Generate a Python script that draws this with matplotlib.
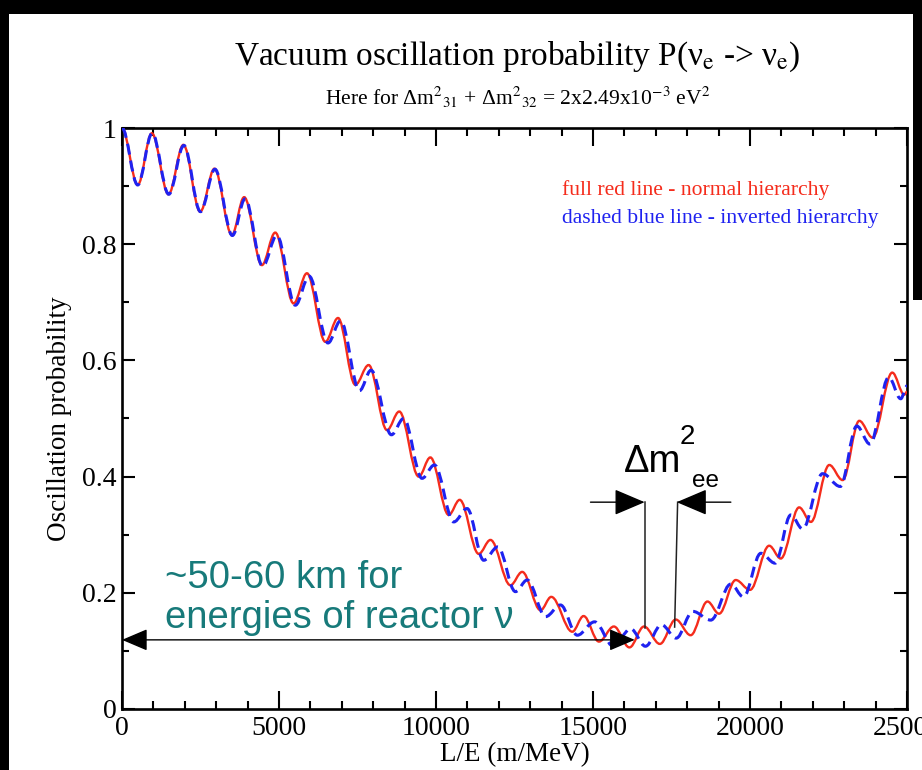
import matplotlib
matplotlib.use("Agg")
import matplotlib.pyplot as plt
from matplotlib.path import Path
from matplotlib.patches import PathPatch, Rectangle
from matplotlib.ticker import MultipleLocator

plt.rcParams['font.family'] = ['Liberation Serif', 'DejaVu Serif']
plt.rcParams['mathtext.fontset'] = 'stix'

# ---- data: local maxima / minima of each curve ----
normal_L = [0, 500, 950, 1480, 1955, 2490, 2945, 3500, 3890, 4455, 4880, 5465,
            5890, 6475, 6880, 7430, 7855, 8440, 8830, 9450, 9820, 10405, 10755,
            11360, 11735, 12370, 12745, 13330, 13670, 14340, 14700, 15190, 15665,
            16160, 16625, 17130, 17635, 18110, 18645, 19015, 19545, 20000, 20610,
            20980, 21565, 21940, 22525, 22950, 23480, 23905, 24530, 24915, 25000]
normal_P = [1.000, 0.902, 0.991, 0.886, 0.971, 0.856, 0.930, 0.816, 0.881, 0.764,
            0.820, 0.698, 0.750, 0.632, 0.673, 0.558, 0.592, 0.480, 0.512, 0.400,
            0.433, 0.334, 0.360, 0.267, 0.291, 0.213, 0.236, 0.170, 0.193, 0.133,
            0.160, 0.116, 0.142, 0.106, 0.142, 0.112, 0.154, 0.127, 0.185, 0.164,
            0.222, 0.205, 0.281, 0.259, 0.347, 0.322, 0.420, 0.394, 0.496, 0.467,
            0.579, 0.541, 0.546]

inverted_L = [0, 500, 960, 1490, 1970, 2500, 2960, 3515, 3920, 4480, 4930, 5520,
              5960, 6560, 6960, 7565, 7930, 8580, 8970, 9555, 9950, 10565, 10990,
              11520, 11970, 12530, 12905, 13490, 13965, 14500, 15050, 15650, 16200,
              16670, 17180, 17650, 18180, 18750, 19390, 19790, 20345, 20800, 21300,
              21675, 22310, 22875, 23400, 23820, 24420, 24800, 25000]
inverted_P = [1.000, 0.902, 0.991, 0.886, 0.970, 0.856, 0.929, 0.815, 0.878, 0.762,
              0.815, 0.695, 0.745, 0.630, 0.668, 0.548, 0.583, 0.472, 0.500, 0.397,
              0.420, 0.322, 0.345, 0.256, 0.279, 0.202, 0.222, 0.159, 0.179, 0.127,
              0.150, 0.108, 0.138, 0.108, 0.145, 0.122, 0.168, 0.153, 0.215, 0.193,
              0.268, 0.251, 0.334, 0.310, 0.405, 0.383, 0.487, 0.456, 0.571, 0.534,
              0.556]

x_ticks = [0, 5000, 10000, 15000, 20000, 25000]
x_tick_labels = ["0", "5000", "10000", "15000", "20000", "25000"]
y_ticks = [0, 0.2, 0.4, 0.6, 0.8, 1.0]
y_tick_labels = ["0", "0.2", "0.4", "0.6", "0.8", "1"]

# annotation anchors (data units)
range_arrow_L = [0, 16330]
range_arrow_P = 0.119
dm_left_L = [14920, 16645]
dm_right_L = [19390, 17665]
dm_arrow_P = 0.356
dm_bar1_L = [16645, 16645]
dm_bar1_P = [0.356, 0.139]
dm_bar2_L = [17695, 17600]
dm_bar2_P = [0.356, 0.141]


def smooth_path(xs, ys, k=0.36):
    """Bezier path through extrema with horizontal tangents."""
    verts = [(xs[0], ys[0])]
    codes = [Path.MOVETO]
    for i in range(1, len(xs)):
        x0, y0 = xs[i - 1], ys[i - 1]
        x1, y1 = xs[i], ys[i]
        dx = x1 - x0
        verts += [(x0 + k * dx, y0), (x1 - k * dx, y1), (x1, y1)]
        codes += [Path.CURVE4] * 3
    return Path(verts, codes)


W, H = 922, 770
fig = plt.figure(figsize=(W / 100, H / 100), dpi=100)
fig.patch.set_facecolor('white')
ax = fig.add_axes([122 / W, 1 - 709 / H, (907 - 122) / W, (709 - 128) / H])

red = '#f52c1c'
blue = '#1f22f0'
teal = '#177a7a'

ax.add_patch(PathPatch(smooth_path(normal_L, normal_P), fill=False,
                       edgecolor=red, lw=1.7, transform=ax.transData, zorder=3))
ax.add_patch(PathPatch(smooth_path(inverted_L, inverted_P), fill=False,
                       edgecolor=blue, lw=2.2, linestyle=(0, (3.6, 2.0)),
                       transform=ax.transData, zorder=4))

ax.set_xlim(0, 25000)
ax.set_ylim(0, 1)
ax.set_xticks(x_ticks)
ax.set_xticklabels(x_tick_labels)
ax.set_yticks(y_ticks)
ax.set_yticklabels(y_tick_labels)
ax.xaxis.set_minor_locator(MultipleLocator(1000))
ax.yaxis.set_minor_locator(MultipleLocator(0.1))
ax.tick_params(axis='x', which='major', direction='in', length=13, width=1.5,
               top=True, bottom=True, labelsize=20, pad=5)
ax.tick_params(axis='x', which='minor', direction='in', length=5.5, width=1.5,
               top=True, bottom=True)
ax.tick_params(axis='y', which='major', direction='in', length=9.5, width=1.5,
               left=True, right=True, labelsize=20, pad=4)
ax.tick_params(axis='y', which='minor', direction='in', length=5, width=1.5,
               left=True, right=True)
for s in ax.spines.values():
    s.set_linewidth(1.9)

ax.set_xlabel('L/E (m/MeV)', fontsize=19.5)
ax.set_ylabel('Oscillation probability', fontsize=19.5)
ax.xaxis.set_label_coords(0.5, -0.057)
ax.yaxis.set_label_coords(-0.064, 0.5)

# titles
fig.text(0.561, 0.926, r'Vacuum oscillation probability P(ν$_{\rm e}$ -> ν$_{\rm e}$)',
         ha='center', va='center', fontsize=24)
fig.text(0.562, 0.873,
         r'Here for Δm$^2$$_{31}$ + Δm$^2$$_{32}$ = 2x2.49x10$^{-3}$ eV$^2$',
         ha='center', va='center', fontsize=15.5)

# legend-like texts
fig.text(562 / W, 1 - 190 / H, 'full red line - normal hierarchy', color=red,
         ha='left', va='center', fontsize=15.6)
fig.text(562 / W, 1 - 219 / H, 'dashed blue line - inverted hierarchy', color=blue,
         ha='left', va='center', fontsize=15.6)

# teal annotation
sans = ['Liberation Sans', 'DejaVu Sans']
fig.text(165 / W, 1 - 588 / H, '~50-60 km for', color=teal, ha='left',
         va='baseline', fontsize=27.5, family=sans)
fig.text(165 / W, 1 - 628 / H, 'energies of reactor ν', color=teal, ha='left',
         va='baseline', fontsize=27.5, family=sans)

# double arrow
ax.annotate('', xy=(range_arrow_L[1], range_arrow_P), xytext=(range_arrow_L[0], range_arrow_P),
            arrowprops=dict(arrowstyle='<|-|>,head_length=0.4,head_width=0.17',
                            mutation_scale=40, color='black', lw=1.0,
                            shrinkA=0, shrinkB=0), zorder=5)

# Delta m^2_ee arrows and bars
for xs in (dm_left_L, dm_right_L):
    ax.annotate('', xy=(xs[1], dm_arrow_P), xytext=(xs[0], dm_arrow_P),
                arrowprops=dict(arrowstyle='-|>,head_length=0.4,head_width=0.17',
                                mutation_scale=48, color='black', lw=1.0,
                                shrinkA=0, shrinkB=0), zorder=5)
ax.plot(dm_bar1_L, dm_bar1_P, color='#222222', lw=1.1, zorder=5)
ax.plot(dm_bar2_L, dm_bar2_P, color='#222222', lw=1.1, zorder=5)

fig.text(624 / W, 1 - 472 / H, 'Δm', ha='left', va='baseline', fontsize=27.5,
         family=sans)
fig.text(680 / W, 1 - 444 / H, '2', ha='left', va='baseline', fontsize=20,
         family=sans)
fig.text(692 / W, 1 - 487 / H, 'ee', ha='left', va='baseline', fontsize=17.5,
         family=sans)

# black frame of the screenshot
fig.patches.append(Rectangle((0, 1 - 14 / H), 1, 14 / H, transform=fig.transFigure,
                             facecolor='black', edgecolor='none', zorder=10))
fig.patches.append(Rectangle((0, 0), 9 / W, 1, transform=fig.transFigure,
                             facecolor='black', edgecolor='none', zorder=10))
fig.patches.append(Rectangle((913 / W, 1 - 300 / H), 9 / W, 300 / H,
                             transform=fig.transFigure, facecolor='black',
                             edgecolor='none', zorder=10))

fig.savefig('out.png', dpi=100)
